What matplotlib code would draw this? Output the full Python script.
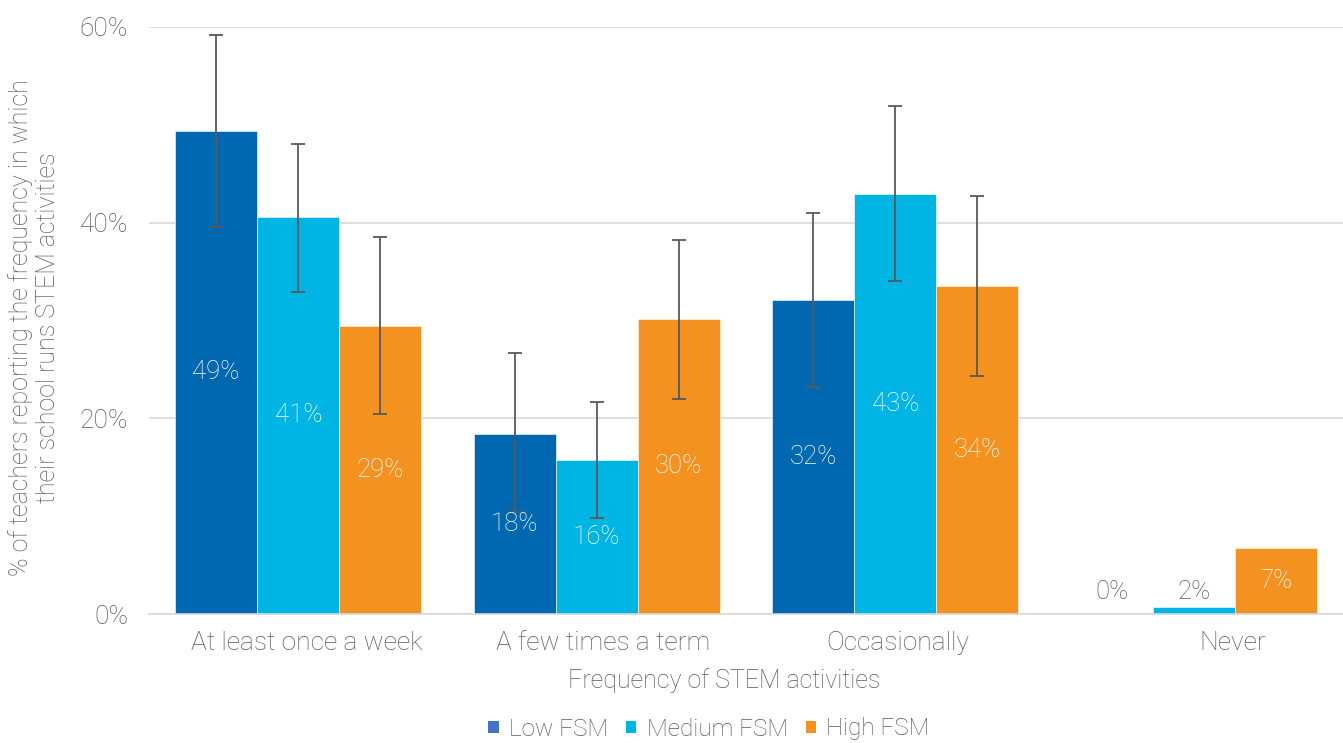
import numpy as np
import matplotlib
matplotlib.use("Agg")
import matplotlib.pyplot as plt
from matplotlib.patches import Patch

plt.rcParams['font.family'] = ['Roboto', 'DejaVu Sans']

categories = ["At least once a week", "A few times a term", "Occasionally", "Never"]
series = ["Low FSM", "Medium FSM", "High FSM"]

low = [49.4, 18.4, 32.1, 0.0]
medium = [40.6, 15.7, 42.9, 0.7]
high = [29.4, 30.2, 33.5, 6.7]

low_err_hi = [59.2, 26.7, 41.0, None]
low_err_lo = [39.6, 10.4, 23.2, None]
med_err_hi = [48.0, 21.7, 51.9, None]
med_err_lo = [32.9, 9.8, 34.0, None]
high_err_hi = [38.5, 38.2, 42.7, None]
high_err_lo = [20.4, 22.0, 24.3, None]

low_labels = ["49%", "18%", "32%", "0%"]
med_labels = ["41%", "16%", "43%", "2%"]
high_labels = ["29%", "30%", "34%", "7%"]

colors = ["#0068B1", "#00B4E4", "#F39220"]
legend_colors = ["#4472C4", "#00B4E4", "#F39220"]
grey = "#595959"

fig = plt.figure(figsize=(13.43, 7.43), dpi=100)
ax = fig.add_axes([149 / 1343, 1 - 614 / 743, 1194 / 1343, 587 / 743])

x = np.arange(len(categories))
w = 0.275
data = [low, medium, high]
err_hi = [low_err_hi, med_err_hi, high_err_hi]
err_lo = [low_err_lo, med_err_lo, high_err_lo]
labels = [low_labels, med_labels, high_labels]

for i in range(3):
    xs = x + (i - 1) * w
    ax.bar(xs, data[i], width=w, color=colors[i], edgecolor="white", linewidth=0.4, zorder=2)
    for j in range(len(categories)):
        v = data[i][j]
        if err_hi[i][j] is not None:
            ax.errorbar(xs[j], v, yerr=[[v - err_lo[i][j]], [err_hi[i][j] - v]],
                        fmt="none", ecolor=grey, elinewidth=1.3, capsize=5, capthick=1.3, zorder=3)
        if v >= 5:
            ax.text(xs[j], v / 2, labels[i][j], ha="center", va="center", color="white",
                    fontsize=18.5, fontweight="light", zorder=4)
        else:
            # small values: label sits just above the baseline
            ax.text(xs[j], 2.2, labels[i][j], ha="center", va="center", color=grey,
                    fontsize=18.5, fontweight="light", zorder=4)

ax.set_xlim(-0.5, 3.5)
ax.set_ylim(0, 60)
ax.set_yticks([0, 20, 40, 60])
ax.set_yticklabels(["0%", "20%", "40%", "60%"])
ax.yaxis.grid(True, color="#D9D9D9", linewidth=1.2, zorder=0)
ax.set_axisbelow(True)
for s in ["left", "right", "top"]:
    ax.spines[s].set_visible(False)
ax.spines["bottom"].set_color("#D9D9D9")
ax.spines["bottom"].set_linewidth(1.2)
ax.tick_params(axis="both", length=0, labelsize=19, labelcolor=grey)
ax.tick_params(axis="y", pad=15)
for t in ax.get_yticklabels():
    t.set_fontweight("light")

ax.set_xticks([0.03, 1.02, 2.01, 3.13])
ax.set_xticklabels(categories, fontweight="light")
ax.tick_params(axis="x", pad=12)

fig.text(724 / 1343, 1 - 681 / 743, "Frequency of STEM activities", fontsize=18, color=grey,
         fontweight="light", ha="center", va="center")
fig.text(34 / 1343, 1 - 328 / 743,
         "% of teachers reporting the frequency in which\ntheir school runs STEM activities",
         fontsize=18, color=grey, fontweight="light", rotation=90, ha="center", va="center",
         multialignment="center", linespacing=1.12)

handles = [Patch(facecolor=c, label=s) for c, s in zip(legend_colors, series)]
fig.legend(handles=handles, loc="center", bbox_to_anchor=(709 / 1343, 1 - 729 / 743), ncol=3,
           frameon=False, handlelength=0.42, handleheight=0.42, handletextpad=0.42,
           columnspacing=0.75, labelcolor=grey, prop={"weight": "light", "size": 17.5})

fig.savefig("out.png", dpi=100)
